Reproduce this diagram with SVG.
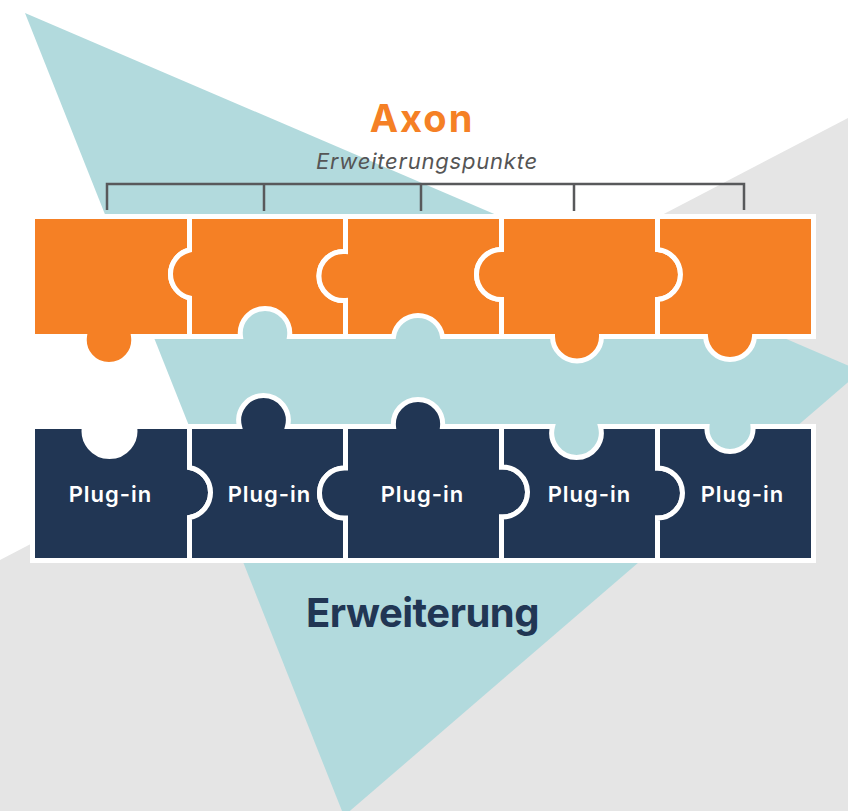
<svg xmlns="http://www.w3.org/2000/svg" width="848" height="811" viewBox="0 0 848 811">
  <style>
    .orange { fill: #F58025; stroke: #FFFFFF; stroke-width: 5; stroke-linejoin: miter; }
    .navy { fill: #213654; stroke: #FFFFFF; stroke-width: 5; stroke-linejoin: miter; }
    .lbl { font-family: Inter, "Liberation Sans", sans-serif; font-weight: 600; font-size: 22px; letter-spacing: 1px; fill: #FFFFFF; text-anchor: middle; }
    .bracket { fill: none; stroke: #58595B; stroke-width: 2.5; }
  </style>
  <rect width="848" height="811" fill="#FFFFFF"/>
  <g id="background">
    <polygon points="848,118 848,811 0,811 0,560" fill="#E5E5E5"/>
    <polygon points="25,13 861,371 344,816" fill="#B2DADD"/>
  </g>

  <g id="title-axon">
    <text x="422" y="132" font-family="Inter, 'Liberation Sans', sans-serif" font-weight="700" font-size="38" letter-spacing="2" fill="#F58025" text-anchor="middle">Axon</text>
    <text x="427" y="169" font-family="Inter, 'Liberation Sans', sans-serif" font-style="italic" font-size="22" letter-spacing="0.8" fill="#555555" text-anchor="middle">Erweiterungspunkte</text>
  </g>

  <g id="connectors">
    <path class="bracket" d="M107,210 V184 H744 V210 M264,184 V211 M421,184 V211 M574,184 V211"/>
  </g>

  <g id="axon-row">
    <g id="axon-1"><path class="orange" d="M32.5,216.5 H189.5 V250 A24.66,24.66 0 0 0 189.5,298 V336.5 H133.5 A24.72,24.72 0 1 1 84.5,336.5 H32.5 Z"/></g>
    <g id="axon-2"><path class="orange" d="M189.5,216.5 H345.5 V251.5 A24.58,24.58 0 1 0 345.5,300.5 V336.5 H289.5 A24.72,24.72 0 1 0 240.5,336.5 H189.5 V298 A24.66,24.66 0 0 1 189.5,250 Z"/></g>
    <g id="axon-3"><path class="orange" d="M345.5,216.5 H501.5 V249.5 A25,25 0 1 0 501.5,299.5 V336.5 H442.5 A24.79,24.79 0 0 0 393.5,336.5 H345.5 V300.5 A24.58,24.58 0 1 1 345.5,251.5 Z"/></g>
    <g id="axon-4"><path class="orange" d="M501.5,216.5 H657.5 V249.5 A25.09,25.09 0 0 1 657.5,299.5 V336.5 H601.5 A24.5,24.5 0 0 1 552.5,336.5 H501.5 V299.5 A25,25 0 1 1 501.5,249.5 Z"/></g>
    <g id="axon-5"><path class="orange" d="M657.5,216.5 H813.5 V336.5 H754.5 A24.55,24.55 0 0 1 705.5,336.5 H657.5 V299.5 A25.09,25.09 0 0 0 657.5,249.5 Z"/></g>
  </g>

  <g id="plugin-row">
    <g id="plugin-1"><path class="navy" d="M32.5,426.5 H84.5 A25.42,25.42 0 1 0 134.5,426.5 H189.5 V467.5 A25.38,25.38 0 0 1 189.5,517.5 V560.5 H32.5 Z"/><text class="lbl" x="110.5" y="502">Plug-in</text></g>
    <g id="plugin-2"><path class="navy" d="M189.5,426.5 H239.5 A24.79,24.79 0 1 1 287.5,426.5 H345.5 V468 A25.02,25.02 0 1 0 345.5,518 V560.5 H189.5 V517.5 A25.38,25.38 0 0 0 189.5,467.5 Z"/><text class="lbl" x="269.5" y="502">Plug-in</text></g>
    <g id="plugin-3"><path class="navy" d="M345.5,426.5 H393.5 A24.62,24.62 0 1 1 442.5,426.5 H501.5 V467 A25.02,25.02 0 1 1 501.5,517 V560.5 H345.5 V518 A25.02,25.02 0 1 1 345.5,468 Z"/><text class="lbl" x="422.5" y="502">Plug-in</text></g>
    <g id="plugin-4"><path class="navy" d="M501.5,426.5 H552.5 A24.79,24.79 0 1 0 600.5,426.5 H657.5 V468 A25,25 0 0 1 657.5,518 V560.5 H501.5 V517 A25.02,25.02 0 1 0 501.5,467 Z"/><text class="lbl" x="589.5" y="502">Plug-in</text></g>
    <g id="plugin-5"><path class="navy" d="M657.5,426.5 H707 A23.08,23.08 0 1 0 753,426.5 H813.5 V560.5 H657.5 V518 A25,25 0 0 0 657.5,468 Z"/><text class="lbl" x="742.5" y="502">Plug-in</text></g>
  </g>

  <g id="title-erweiterung">
    <text x="422.5" y="627" font-family="Inter, 'Liberation Sans', sans-serif" font-weight="700" font-size="40" letter-spacing="-0.5" fill="#213654" text-anchor="middle">Erweiterung</text>
  </g>
</svg>
